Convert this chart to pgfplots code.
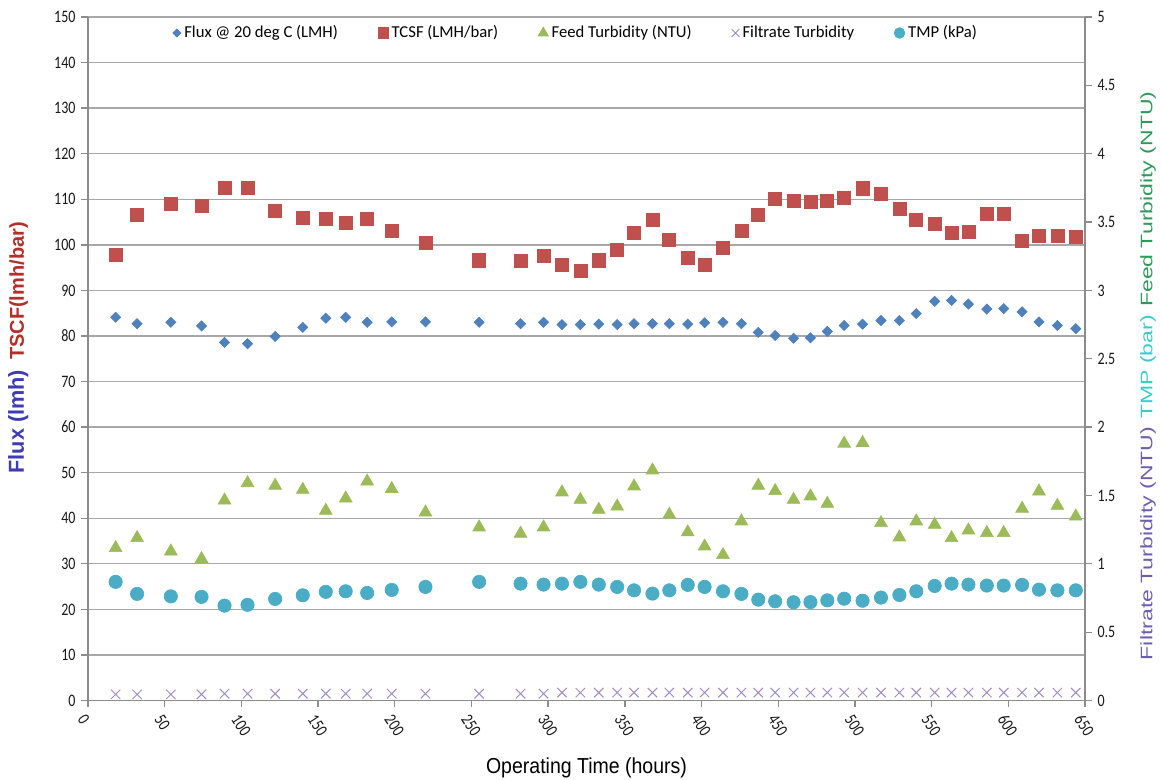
\documentclass[border=0pt]{standalone}
\usepackage{pgfplots}
\pgfplotsset{compat=1.18}
\usepackage{pgfplotstable}
\usepackage{fontspec}
\setmainfont{Carlito}
\newfontfamily\tickfont{Carlito}[FakeStretch=0.8]
\newfontfamily\xlabfont{Liberation Sans}[FakeStretch=0.9]
\newfontfamily\rlabfont{Liberation Sans}[FakeStretch=1.38]
\newfontfamily\llabfont{Liberation Sans}
\definecolor{fluxc}{HTML}{4F81BD}
\definecolor{tcsfc}{HTML}{C0504D}
\definecolor{feedc}{HTML}{9BBB59}
\definecolor{filtc}{HTML}{9E8CC6}
\definecolor{tmpc}{HTML}{4BACC6}
\definecolor{labflux}{HTML}{3C3CB4}
\definecolor{labtcsf}{HTML}{B0302A}
\definecolor{labfeed}{HTML}{2E9A5C}
\definecolor{labtmp}{HTML}{3CCBCB}
\definecolor{labfilt}{HTML}{6F5EAE}
\definecolor{axgray}{HTML}{8C8C8C}
\definecolor{gridgray}{HTML}{A8A8A8}
\pgfplotstableread{
x flux tcsf feed filt tmp
18 84.1 97.7 1.116 0.045 0.868
32 82.7 106.6 1.189 0.045 0.780
54 83.0 109.0 1.091 0.045 0.762
74 82.2 108.6 1.036 0.045 0.758
89 78.6 112.6 1.464 0.050 0.694
104 78.3 112.6 1.591 0.050 0.700
122 79.9 107.5 1.572 0.050 0.743
140 81.9 106.0 1.542 0.050 0.770
155 83.9 105.8 1.389 0.050 0.795
168 84.1 104.8 1.479 0.050 0.799
182 83.0 105.8 1.603 0.050 0.787
198 83.1 103.1 1.548 0.050 0.809
220 83.1 100.5 1.376 0.050 0.831
255 83.0 96.6 1.267 0.050 0.868
282 82.7 96.5 1.221 0.050 0.855
297 83.0 97.6 1.267 0.050 0.848
309 82.5 95.6 1.523 0.058 0.855
321 82.5 94.2 1.469 0.058 0.868
333 82.6 96.6 1.396 0.058 0.848
345 82.5 98.8 1.420 0.058 0.831
356 82.7 102.7 1.567 0.058 0.806
368 82.7 105.5 1.684 0.058 0.782
379 82.7 101.1 1.360 0.058 0.806
391 82.6 97.1 1.231 0.058 0.846
402 82.9 95.6 1.128 0.058 0.831
414 83.0 99.4 1.065 0.058 0.799
426 82.7 103.1 1.311 0.058 0.780
437 80.8 106.6 1.572 0.058 0.738
448 80.1 110.0 1.533 0.058 0.726
460 79.5 109.6 1.469 0.058 0.719
471 79.6 109.5 1.494 0.058 0.720
482 81.0 109.7 1.440 0.058 0.733
493 82.3 110.4 1.880 0.058 0.745
505 82.6 112.4 1.885 0.058 0.730
517 83.4 111.1 1.299 0.058 0.753
529 83.4 107.8 1.194 0.058 0.772
540 84.9 105.5 1.311 0.058 0.799
552 87.6 104.6 1.287 0.058 0.838
563 87.8 102.6 1.189 0.058 0.855
574 87.0 102.9 1.245 0.058 0.848
586 85.9 106.8 1.226 0.058 0.841
597 86.0 106.7 1.226 0.058 0.841
609 85.3 100.9 1.404 0.058 0.846
620 83.1 102.0 1.530 0.058 0.811
632 82.3 102.0 1.425 0.058 0.806
644 81.6 101.8 1.347 0.058 0.806
}\data
\pgfplotsset{
  common/.style={
    scale only axis, width=598pt, height=410pt,
    xmin=0, xmax=650,
    tick align=outside,
    major tick length=4pt,
    tick style={axgray, line width=0.8pt},
    axis line style={axgray, line width=0.9pt},
    ticklabel style={font=\tickfont\fontsize{10.5}{12}\selectfont, text=black!90},
    /pgf/number format/assume math mode=true,
  }
}
\begin{document}
\begin{tikzpicture}
\begin{axis}[common,
  ymin=0, ymax=150, ytick={0,10,...,150},
  xtick={0,50,...,650},
  axis y line*=left, axis x line*=bottom,
  ymajorgrids, grid style={gridgray, line width=0.8pt},
  xticklabel style={rotate=-57, anchor=north west, inner sep=1pt, xshift=1.5pt, yshift=-1.5pt},
  xlabel={\xlabfont\fontsize{13}{15}\selectfont Operating Time (hours)},
  xlabel style={at={(axis description cs:0.5,-0.098)}, anchor=center},
  ylabel={\llabfont\bfseries\fontsize{12}{14}\selectfont{\color{labflux}\fontsize{13}{14}\selectfont Flux (lmh)}\hspace{6pt}{\color{labtcsf}TSCF(lmh/bar)}},
  ylabel style={at={(axis description cs:-0.070,0.516)}, anchor=center},
]
\addplot[only marks, mark=square*, mark size=2.15pt, mark options={rotate=45, fill=fluxc, draw=fluxc}] table[x=x, y=flux] {\data};
\addplot[only marks, mark=square*, mark size=3.9pt, mark options={fill=tcsfc, draw=tcsfc}] table[x=x, y=tcsf] {\data};
\end{axis}
\begin{axis}[common,
  ymin=0, ymax=5, ytick={0,0.5,...,5},
  axis y line*=right, axis x line=none, xtick=\empty,
  yticklabel style={/pgf/number format/fixed},
  ylabel={\rlabfont\fontsize{10}{12}\selectfont{\color{labfilt}Filtrate Turbidity (NTU)}\hspace{5pt}{\color{labtmp}TMP (bar)}\hspace{5pt}{\color{labfeed}Feed Turbidity (NTU)}},
  ylabel style={at={(axis description cs:1.0632,0.475)}, anchor=center},
  legend style={at={(0.49,0.9766)}, anchor=center, draw=none, fill=none,
    font=\fontsize{10}{12}\selectfont, legend columns=5,
    /tikz/every even column/.append style={column sep=22pt}},
  legend image post style={scale=0.8},
  legend cell align=left,
]
\addlegendimage{only marks, mark=square*, mark size=2.15pt, mark options={rotate=45, fill=fluxc, draw=fluxc}}
\addlegendentry{Flux @ 20 deg C (LMH)}
\addlegendimage{only marks, mark=square*, mark size=3.9pt, mark options={fill=tcsfc, draw=tcsfc}}
\addlegendentry{TCSF (LMH/bar)}
\addplot[only marks, mark=triangle*, mark size=4.4pt, mark options={fill=feedc, draw=feedc}] table[x=x, y=feed] {\data};
\addlegendentry{Feed Turbidity (NTU)}
\addplot[only marks, mark=x, mark size=4pt, mark options={draw=filtc, line width=0.6pt}] table[x=x, y=filt] {\data};
\addlegendentry{Filtrate Turbidity}
\addplot[only marks, mark=*, mark size=4pt, mark options={fill=tmpc, draw=tmpc}] table[x=x, y=tmp] {\data};
\addlegendentry{TMP (kPa)}
\end{axis}
\pgfresetboundingbox
\path ([shift={(-52.8pt,-47.4pt)}]current axis.south west) rectangle ([shift={(45.6pt,10.2pt)}]current axis.north east);
\end{tikzpicture}
\end{document}
